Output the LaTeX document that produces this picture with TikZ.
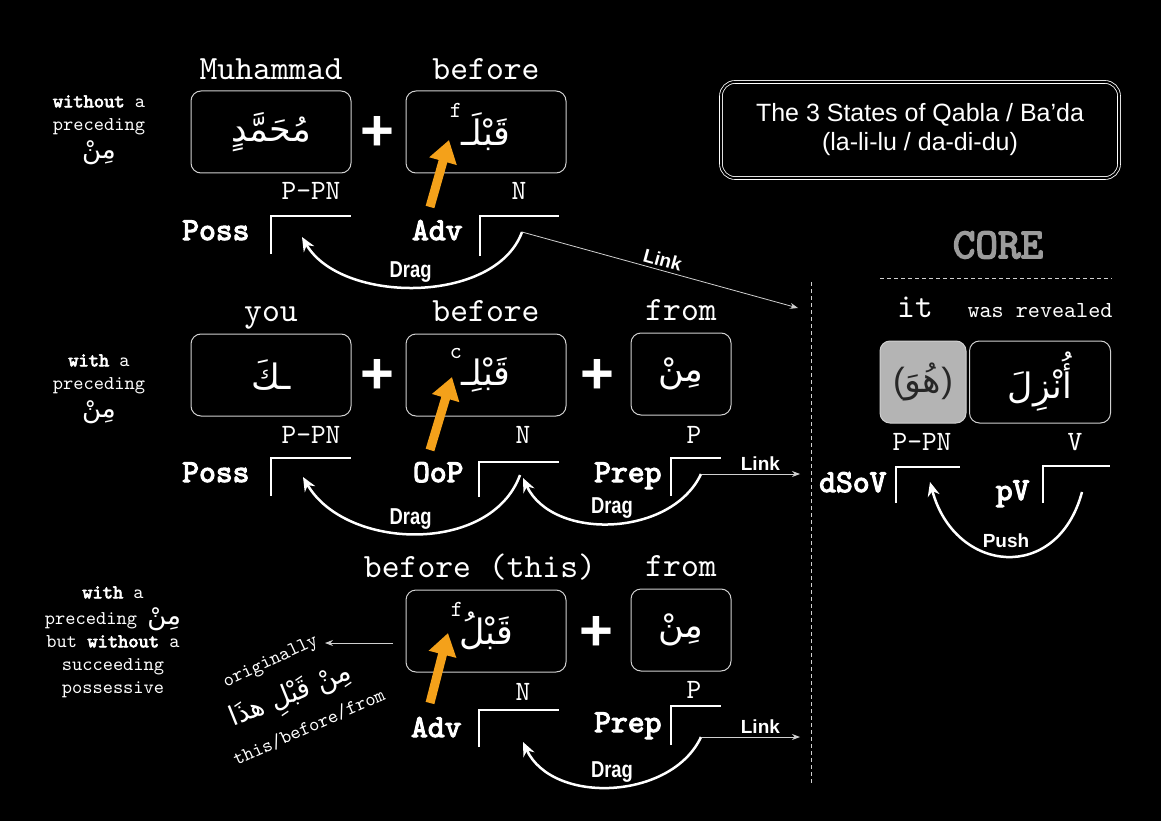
\documentclass[tikz,border=0pt]{standalone}
\usepackage{fontspec}
\setmainfont{Liberation Sans}
\setmonofont[BoldFont=lmmono10-regular.otf,BoldFeatures={FakeBold=3.5}]{lmmono10-regular.otf}
\newfontfamily\arabicfont[Script=Arabic]{DejaVu Sans}
\newfontfamily\dragfont[FakeStretch=0.8]{Liberation Sans}
\TeXXeTstate=1
\usetikzlibrary{arrows.meta,positioning}
\definecolor{qorange}{HTML}{F4A11A}
\definecolor{boxline}{HTML}{D0D0D0}
\definecolor{coregrey}{HTML}{9B9B9B}
\definecolor{pronfill}{HTML}{B4B4B4}
\newcommand\rtl[1]{{\arabicfont\beginR #1\endR}}

\begin{document}
\begin{tikzpicture}[x=1pt,y=1pt,
  every node/.style={text=white},
  wordbox/.style={draw=boxline,line width=1pt,rounded corners=10pt,minimum width=160pt,minimum height=82pt,inner sep=0pt,font=\arabicfont\fontsize{35}{40}\selectfont},
  smallbox/.style={wordbox,minimum width=100pt},
  gloss/.style={font=\ttfamily\fontsize{34}{34}\selectfont},
  tag/.style={font=\ttfamily\fontsize{28}{28}\selectfont},
  role/.style={font=\ttfamily\bfseries\fontsize{32}{32}\selectfont},
  note/.style={font=\ttfamily\fontsize{19.5}{23}\selectfont,align=center},
  supmark/.style={font=\ttfamily\fontsize{23}{23}\selectfont},
  plus/.style={font=\bfseries\fontsize{58}{58}\selectfont},
  slot/.style={draw=white,line width=2pt},
  drag/.style={draw=white,line width=2.5pt,-{Stealth[length=14pt,width=12pt]}},
  link/.style={draw=boxline,line width=0.8pt,-{Stealth[length=8pt,width=6pt]}},
  pointer/.style={draw=qorange,line width=9pt,-{Triangle[length=22pt,width=27pt]}},
  dragtext/.style={font=\dragfont\bfseries\fontsize{23}{23}\selectfont},
  linktext/.style={font=\bfseries\fontsize{19}{19}\selectfont},
  divider/.style={draw=boxline,line width=0.8pt,dash pattern=on 4pt off 3pt}]

\path[fill=black,use as bounding box] (0,0) rectangle (1161,-821);

% title
\node[draw=white,double=black,double distance=2pt,line width=0.8pt,rounded corners=14pt,minimum width=398pt,minimum height=96pt,align=center,font=\fontsize{25}{29}\selectfont] (title) at (920,-130) {The 3 States of Qabla / Ba'da\\(la-li-lu / da-di-du)};

% row 1: without a preceding min
\node[note] (cond1) at (99,-130) {\textbf{without} a\\preceding\\[5pt]{\fontsize{26}{26}\selectfont\rtl{مِنْ}}};
\node[wordbox] (muh) at (271,-132) {\beginR مُحَمَّدٍ\endR};
\node[plus] (plusA) at (377,-133) {+};
\node[wordbox] (qablA) at (486,-132) {\beginR قَبْلَـ\endR};
\node[supmark] (supA) at (456,-110) {f};
\node[gloss,above=11pt of muh,anchor=base] {Muhammad};
\node[gloss,above=11pt of qablA,anchor=base] {before};

\coordinate (possA) at (271,-216);
\coordinate (advA) at (480,-216);
\draw[slot] (possA) ++(0,-38) -- (possA) -- ++(80,0);
\draw[slot] (advA) ++(0,-40) -- (advA) -- ++(79,0);
\node[tag,above right=16pt and 40pt of possA,anchor=base] {P-PN};
\node[tag,above right=16pt and 39pt of advA,anchor=base] {N};
\node[role,anchor=base east] at (253,-240) {Poss};
\node[role,anchor=base east] at (466,-240) {Adv};

\coordinate (dragA) at (522,-232);
\coordinate (dropA) at (302,-237);
\coordinate (linkA) at (798,-308);
\draw[drag] (dragA) to[out=-110,in=-60,looseness=0.9] node[dragtext,above=0pt,xshift=-6pt] {Drag} (dropA);
\draw[link] (dragA) -- node[linktext,sloped,above] {Link} (linkA);
\coordinate (tailA) at (430,-207);
\coordinate (tipA) at (449,-140);
\draw[pointer] (tailA) -- (tipA);

% row 2: with a preceding min
\node[note] (cond2) at (99,-389) {\textbf{with} a\\preceding\\[5pt]{\fontsize{26}{26}\selectfont\rtl{مِنْ}}};
\node[wordbox] (kaf) at (271,-375) {\beginR ـكَ\endR};
\node[plus] (plusB) at (377,-376) {+};
\node[wordbox] (qablB) at (486,-375) {\beginR قَبْلِـ\endR};
\node[supmark] (supB) at (456,-354) {c};
\node[plus] (plusC) at (597,-376) {+};
\node[smallbox] (minB) at (681,-374) {\beginR مِنْ\endR};
\node[gloss,above=12pt of kaf,anchor=base] {you};
\node[gloss,above=12pt of qablB,anchor=base] {before};
\node[gloss,above=12pt of minB,anchor=base] {from};

\coordinate (possB) at (271,-458);
\coordinate (oopB) at (479,-462);
\coordinate (prepB) at (671,-458);
\draw[slot] (possB) ++(0,-38) -- (possB) -- ++(80,0);
\draw[slot] (oopB) ++(0,-35) -- (oopB) -- ++(80,0);
\draw[slot] (prepB) ++(0,-38) -- (prepB) -- ++(50,0);
\node[tag,above right=15pt and 40pt of possB,anchor=base] {P-PN};
\node[tag,above right=19pt and 44pt of oopB,anchor=base] {N};
\node[tag,above right=15pt and 23pt of prepB,anchor=base] {P};
\node[role,anchor=base east] at (253,-482) {Poss};
\node[role,anchor=base east] at (467,-482) {OoP};
\node[role,anchor=base east] at (665,-482) {Prep};

\coordinate (dragB) at (520,-475);
\coordinate (dropB) at (303,-477);
\coordinate (fromB) at (701,-474);
\coordinate (intoB) at (523,-478);
\coordinate (linkB) at (800,-474);
\draw[drag] (dragB) to[out=-110,in=-60] node[dragtext,above=0pt,xshift=-6pt] {Drag} (dropB);
\draw[drag] (fromB) to[out=-115,in=-65] node[dragtext,above=0pt] {Drag} (intoB);
\draw[link] (fromB) -- node[linktext,above,pos=0.6] {Link} (linkB);
\coordinate (tailB) at (430,-450);
\coordinate (tipB) at (452,-377);
\draw[pointer] (tailB) -- (tipB);

% row 3: with min, no possessive
\node[note] (cond3) at (113,-642) {\textbf{with} a\\[3pt]preceding {\fontsize{26}{26}\selectfont\rtl{مِنْ}}\\but \textbf{without} a\\succeeding\\possessive};
\node[wordbox] (qablC) at (486,-631) {\beginR قَبْلُ\endR};
\node[supmark] (supC) at (457,-609) {f};
\node[plus] (plusD) at (596,-633) {+};
\node[smallbox] (minC) at (681,-630) {\beginR مِنْ\endR};
\node[gloss,above=12pt of qablC,anchor=base,xshift=-6pt] {before (this)};
\node[gloss,above=12pt of minC,anchor=base] {from};

\coordinate (advC) at (479,-710);
\coordinate (prepC) at (671,-706);
\draw[slot] (advC) ++(0,-37) -- (advC) -- ++(80,0);
\draw[slot] (prepC) ++(0,-39) -- (prepC) -- ++(50,0);
\node[tag,above right=10pt and 44pt of advC,anchor=base] {N};
\node[tag,above right=8pt and 23pt of prepC,anchor=base] {P};
\node[role,anchor=base east] at (465,-737) {Adv};
\node[role,anchor=base east] at (665,-732) {Prep};

\coordinate (fromC) at (701,-737);
\coordinate (intoC) at (523,-742);
\coordinate (linkC) at (800,-737);
\draw[drag] (fromC) to[out=-115,in=-65] node[dragtext,above=0pt] {Drag} (intoC);
\draw[link] (fromC) -- node[linktext,above,pos=0.6] {Link} (linkC);
\coordinate (tailC) at (430,-703);
\coordinate (tipC) at (448,-633);
\draw[pointer] (tailC) -- (tipC);

\coordinate (origS) at (393,-643);
\coordinate (origE) at (325,-643);
\draw[link] (origS) -- (origE);
\node[note,rotate=25] (orig) at (271,-662) {originally};
\node[font=\arabicfont\fontsize{27}{27}\selectfont,rotate=22] (origar) at (291,-697) {\beginR مِنْ قَبْلِ هذَا\endR};
\node[note,rotate=24] (origen) at (309,-727) {this/before/from};

% core
\node[font=\ttfamily\bfseries\fontsize{43}{43}\selectfont,text=coregrey] (core) at (998,-245) {CORE};
\draw[divider] (880,-278) -- (1112,-278);
\draw[divider] (811,-282) -- (811,-785);
\node[wordbox,fill=pronfill,minimum width=86pt,text=black!85] (huwa) at (923,-382) {{\rmfamily(}\beginR هُوَ\endR{\rmfamily)}};
\node[wordbox,minimum width=141pt] (unzila) at (1040,-382) {\beginR أُنْزِلَ\endR};
\node[gloss,above=23pt of huwa,anchor=base,xshift=-8pt] {it};
\node[gloss,font=\ttfamily\fontsize{23}{23}\selectfont,above=23pt of unzila,anchor=base] {was revealed};

\coordinate (subjS) at (896,-467);
\coordinate (verbS) at (1043,-466);
\draw[slot] (subjS) ++(0,-36) -- (subjS) -- ++(64,0);
\draw[slot] (verbS) ++(0,-37) -- (verbS) -- ++(67,0);
\node[tag,above right=17pt and 26pt of subjS,anchor=base] {P-PN};
\node[tag,above right=16pt and 32pt of verbS,anchor=base] {V};
\node[role,anchor=base east] at (890,-492) {dSoV};
\node[role,anchor=base east] at (1033,-500) {pV};

\coordinate (pushS) at (1082,-492);
\coordinate (pushE) at (930,-482);
\draw[drag] (pushS) to[out=-105,in=-75,looseness=1.6] node[linktext,above=4pt] {Push} (pushE);
\end{tikzpicture}
\end{document}
